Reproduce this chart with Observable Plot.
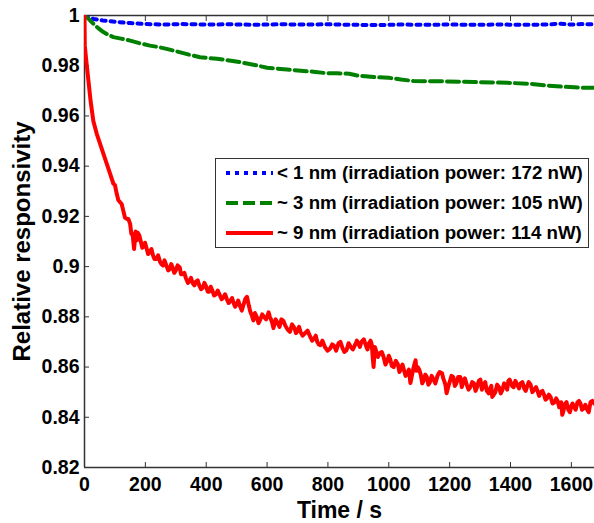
<!DOCTYPE html>
<html><head><meta charset="utf-8">
<script src="https://cdn.jsdelivr.net/npm/d3@7"></script>
<script src="https://cdn.jsdelivr.net/npm/@observablehq/plot@0.6"></script>
<style>
body{margin:0;background:#fff;}
#wrap{position:relative;width:594px;height:523px;font-family:"Liberation Sans",Arial,sans-serif;overflow:hidden;}
#legend{position:absolute;left:215px;top:158px;width:372px;height:88px;border:1.5px solid #333;background:#fff;font-weight:bold;font-size:18.7px;color:#000;}
.row{position:absolute;left:0;height:24px;display:flex;align-items:center;white-space:nowrap;}
.row svg{margin-left:10px;margin-right:4px;}
</style></head><body><div id="wrap"></div>
<script>
const xTicks = [0, 200, 400, 600, 800, 1000, 1200, 1400, 1600];
const yTicks = [0.82, 0.84, 0.86, 0.88, 0.9, 0.92, 0.94, 0.96, 0.98, 1];
const seriesNames = ["< 1 nm (irradiation power: 172 nW)", "~ 3 nm (irradiation power: 105 nW)", "~ 9 nm (irradiation power: 114 nW)"];
const seriesColors = ["#0000ff", "#008000", "#ff0000"];
const seriesDash = ["4,5", "12,5", null];

const blueT = [0, 10, 30, 60, 100, 150, 200, 260, 320, 400, 480, 560, 640, 720, 800, 880, 960, 1040, 1120, 1200, 1280, 1360, 1440, 1520, 1560, 1600, 1640, 1676];
const blueV = [1.0, 0.9993, 0.9986, 0.998, 0.9975, 0.997, 0.9966, 0.9964, 0.9966, 0.9964, 0.9965, 0.9963, 0.9965, 0.9964, 0.9965, 0.9963, 0.9962, 0.9964, 0.9963, 0.9964, 0.9963, 0.9964, 0.9963, 0.9964, 0.9967, 0.9964, 0.9966, 0.9965];

const greenT = [0, 5, 15, 29, 45, 62, 80, 95, 120, 150, 180, 215, 240, 270, 300, 325, 350, 380, 410, 435, 470, 512, 555, 600, 665, 710, 752, 797, 830, 870, 896, 950, 1000, 1040, 1082, 1170, 1280, 1390, 1466, 1521, 1565, 1610, 1641, 1676];
const greenV = [1.0, 0.9995, 0.9985, 0.9967, 0.995, 0.9934, 0.9922, 0.9914, 0.9908, 0.99, 0.989, 0.988, 0.9875, 0.9867, 0.9858, 0.985, 0.9842, 0.9834, 0.983, 0.9828, 0.9822, 0.9814, 0.9804, 0.9792, 0.9785, 0.978, 0.9776, 0.977, 0.977, 0.9768, 0.9761, 0.9755, 0.9752, 0.9745, 0.9739, 0.9738, 0.9735, 0.9732, 0.9728, 0.9721, 0.9717, 0.9714, 0.9712, 0.9712];

const redT = [0, 1, 5, 12, 20, 29, 40, 51, 62, 73, 84, 95, 106, 117, 128, 139, 150, 158, 163, 168, 175, 185, 195, 203, 215, 225, 236, 248, 258, 269, 280, 290, 300, 313, 322, 333, 346, 355, 366, 377, 388, 400, 410, 420, 432, 445, 457, 468, 480, 490, 500, 512, 523, 534, 545, 555, 566, 578, 590, 605, 613, 621, 635, 647, 660, 675, 690, 700, 710, 725, 742, 755, 765, 775, 790, 808, 820, 835, 848, 861, 875, 890, 900, 910, 925, 935, 944, 950, 958, 970, 983, 995, 1005, 1016, 1030, 1040, 1050, 1060, 1071, 1080, 1088, 1095, 1105, 1115, 1125, 1135, 1147, 1160, 1175, 1182, 1190, 1200, 1212, 1222, 1235, 1245, 1256, 1268, 1280, 1290, 1301, 1312, 1322, 1333, 1340, 1350, 1362, 1373, 1385, 1393, 1400, 1410, 1422, 1433, 1445, 1455, 1466, 1478, 1490, 1499, 1510, 1520, 1532, 1545, 1555, 1565, 1570, 1578, 1590, 1600, 1609, 1620, 1630, 1640, 1652, 1663, 1675];
const redV = [1.0, 0.988, 0.983, 0.975, 0.966, 0.958, 0.953, 0.949, 0.945, 0.941, 0.937, 0.933, 0.929, 0.9256, 0.922, 0.919, 0.917, 0.913, 0.907, 0.914, 0.9135, 0.91, 0.908, 0.9077, 0.906, 0.9045, 0.903, 0.902, 0.9005, 0.9005, 0.899, 0.8995, 0.8985, 0.8997, 0.897, 0.8955, 0.8945, 0.8935, 0.894, 0.8925, 0.8915, 0.892, 0.89, 0.8905, 0.889, 0.8885, 0.8878, 0.887, 0.8865, 0.8855, 0.885, 0.884, 0.885, 0.888, 0.882, 0.8786, 0.88, 0.879, 0.88, 0.8818, 0.879, 0.8755, 0.8775, 0.879, 0.8765, 0.874, 0.8755, 0.8745, 0.874, 0.8735, 0.872, 0.8715, 0.87, 0.8687, 0.868, 0.8675, 0.8685, 0.8695, 0.8675, 0.8667, 0.868, 0.869, 0.8695, 0.87, 0.8685, 0.8695, 0.869, 0.86, 0.8665, 0.8655, 0.864, 0.8625, 0.863, 0.86, 0.861, 0.8595, 0.8587, 0.8575, 0.8536, 0.859, 0.8627, 0.86, 0.857, 0.8548, 0.856, 0.854, 0.855, 0.8565, 0.8575, 0.8545, 0.8496, 0.854, 0.856, 0.8535, 0.856, 0.8545, 0.853, 0.852, 0.8535, 0.852, 0.855, 0.853, 0.8505, 0.8515, 0.8481, 0.85, 0.852, 0.8508, 0.8525, 0.8545, 0.8541, 0.852, 0.853, 0.8535, 0.8515, 0.8525, 0.853, 0.851, 0.85, 0.8501, 0.849, 0.8475, 0.848, 0.846, 0.8465, 0.8455, 0.841, 0.845, 0.843, 0.8445, 0.8441, 0.846, 0.8455, 0.8435, 0.843, 0.846, 0.8455];
// extra noisy samples read between the points above
const redNoiseT = [100, 111, 122, 133, 144, 154, 172, 180, 190, 199, 209, 220, 230, 242, 253, 263, 275, 285, 295, 306, 317, 328, 340, 350, 361, 372, 383, 394, 405, 415, 426, 438, 451, 462, 474, 485, 495, 505, 517, 528, 540, 550, 560, 572, 584, 597, 609, 617, 628, 641, 653, 667, 682, 695, 705, 717, 733, 748, 760, 770, 782, 799, 814, 827, 841, 854, 868, 882, 895, 905, 918, 930, 940, 947, 954, 964, 977, 989, 1000, 1010, 1023, 1035, 1045, 1055, 1066, 1075, 1084, 1091, 1100, 1110, 1120, 1130, 1141, 1153, 1167, 1179, 1186, 1195, 1206, 1217, 1228, 1240, 1250, 1262, 1274, 1285, 1296, 1306, 1317, 1328, 1337, 1345, 1356, 1368, 1379, 1389, 1397, 1405, 1416, 1428, 1439, 1450, 1460, 1472, 1484, 1494, 1505, 1515, 1526, 1538, 1550, 1560, 1567, 1574, 1584, 1595, 1604, 1614, 1625, 1635, 1646, 1657, 1669];
const redNoiseV = [0.9325, 0.9265, 0.925, 0.9195, 0.919, 0.913, 0.9105, 0.9125, 0.9075, 0.9095, 0.905, 0.907, 0.903, 0.9045, 0.901, 0.9025, 0.8985, 0.901, 0.8975, 0.9005, 0.897, 0.8975, 0.8935, 0.8955, 0.8925, 0.8945, 0.891, 0.8935, 0.89, 0.892, 0.8885, 0.8905, 0.887, 0.889, 0.8855, 0.8875, 0.884, 0.8865, 0.8825, 0.887, 0.8845, 0.8805, 0.8815, 0.8775, 0.881, 0.879, 0.88, 0.8775, 0.879, 0.876, 0.8785, 0.875, 0.877, 0.8735, 0.876, 0.8725, 0.8745, 0.8705, 0.8725, 0.869, 0.8705, 0.8665, 0.869, 0.8665, 0.87, 0.866, 0.8695, 0.867, 0.8705, 0.868, 0.871, 0.867, 0.8705, 0.864, 0.868, 0.864, 0.866, 0.861, 0.8645, 0.8605, 0.8625, 0.858, 0.861, 0.8565, 0.859, 0.856, 0.861, 0.8585, 0.859, 0.8535, 0.857, 0.853, 0.8565, 0.8535, 0.858, 0.8555, 0.853, 0.852, 0.8565, 0.8525, 0.856, 0.852, 0.8555, 0.851, 0.854, 0.8505, 0.8545, 0.851, 0.854, 0.8495, 0.8525, 0.849, 0.853, 0.8495, 0.8535, 0.851, 0.855, 0.8525, 0.8545, 0.8515, 0.854, 0.8505, 0.854, 0.85, 0.852, 0.8485, 0.8505, 0.847, 0.849, 0.8455, 0.8475, 0.844, 0.846, 0.8425, 0.846, 0.842, 0.8455, 0.843, 0.8465, 0.843, 0.845, 0.842, 0.8465];

const toRows = (T, V) => T.map((t, i) => ({t, v: V[i]}));
const blue = toRows(blueT, blueV), green = toRows(greenT, greenV);
const red = toRows(redT, redV).concat(toRows(redNoiseT, redNoiseV)).sort((a, b) => a.t - b.t);
const axisColor = "#333";
const fmtY = d => String(+d.toFixed(2));
const fmtX = d => String(d);

const chart = Plot.plot({
  width: 594, height: 523,
  marginLeft: 84, marginRight: 0, marginTop: 15, marginBottom: 56,
  style: {fontFamily: "'Liberation Sans', Arial, sans-serif", fontWeight: "bold", fontSize: "18px", color: "#000", background: "#fff", overflow: "visible"},
  x: {domain: [0, 1676]},
  y: {domain: [0.82, 1]},
  marks: [
    Plot.ruleY([0.82, 1], {stroke: axisColor, strokeWidth: 1.5}),
    Plot.ruleX([0], {stroke: axisColor, strokeWidth: 1.5}),
    Plot.axisX({anchor: "bottom", ticks: xTicks, tickSize: 5, dy: -5, text: null, stroke: axisColor, label: null}),
    Plot.axisX({anchor: "top", ticks: xTicks, tickSize: 5, dy: 5, text: null, stroke: axisColor, label: null}),
    Plot.axisX({anchor: "bottom", ticks: xTicks, tickSize: 0, tickPadding: 10, tickFormat: fmtX, label: null, fontSize: 19.5, fill: "#000"}),
    Plot.axisY({anchor: "left", ticks: yTicks, tickSize: 5, dx: 5, text: null, stroke: axisColor, label: null}),
    Plot.axisY({anchor: "left", ticks: yTicks, tickSize: 0, tickPadding: 5, tickFormat: fmtY, label: null, fontSize: 19.5, fill: "#000"}),
    Plot.line(blue, {x: "t", y: "v", stroke: seriesColors[0], strokeWidth: 4, strokeDasharray: seriesDash[0], clip: true}),
    Plot.line(green, {x: "t", y: "v", stroke: seriesColors[1], strokeWidth: 4, strokeDasharray: seriesDash[1], clip: true}),
    Plot.line(red, {x: "t", y: "v", stroke: seriesColors[2], strokeWidth: 4, clip: true}),
    Plot.text(["Time / s"], {text: d => d, frameAnchor: "bottom", lineAnchor: "middle", dy: 43, fontSize: 23, fontWeight: "bold", fill: "#000"}),
    Plot.text(["Relative responsivity"], {text: d => d, frameAnchor: "left", textAnchor: "middle", lineAnchor: "middle", dx: -62, rotate: -90, fontSize: 24, fontWeight: "bold", fill: "#000"})
  ]
});
const wrap = document.getElementById("wrap");
wrap.appendChild(chart);

const legend = document.createElement("div");
legend.id = "legend";
seriesNames.forEach((name, i) => {
  const row = document.createElement("div");
  row.className = "row";
  row.style.top = (2 + i * 30) + "px";
  const dash = seriesDash[i] ? `stroke-dasharray="${seriesDash[i]}"` : "";
  row.innerHTML = `<svg width="47" height="10"><line x1="0" y1="5" x2="47" y2="5" stroke="${seriesColors[i]}" stroke-width="4" ${dash}/></svg><span>${name.replace("<", "&lt;")}</span>`;
  legend.appendChild(row);
});
wrap.appendChild(legend);
</script>
</body></html>
